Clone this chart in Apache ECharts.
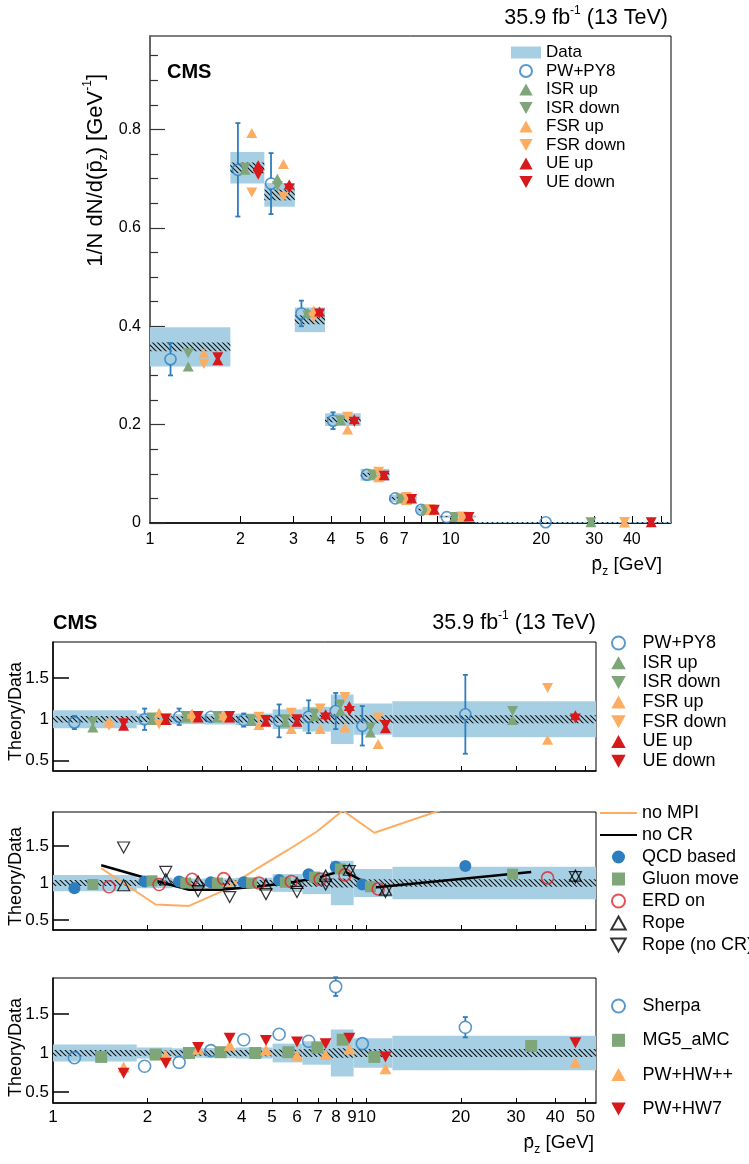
<!DOCTYPE html>
<html><head><meta charset="utf-8">
<script src="https://cdn.jsdelivr.net/npm/echarts@6/dist/echarts.min.js"></script>
<style>html,body{margin:0;padding:0;background:#fff}#c{width:749px;height:1164px}</style>
</head><body><div id="c"></div>
<script>
// ---------------- data ----------------
const binEdges = [1, 1.85, 2.4, 3.03, 3.82, 5.02, 6.25, 7.7, 9.1, 12.1, 55];
const xTickValues = [2, 3, 4, 5, 6, 7, 8, 9, 10, 20, 30, 40, 50];
const xLabelsTop = [1, 2, 3, 4, 5, 6, 7, 10, 20, 30, 40];
const xLabelsBottom = [1, 2, 3, 4, 5, 6, 7, 8, 9, 10, 20, 30, 40, 50];
const yMajorTop = [0, 0.2, 0.4, 0.6, 0.8];
const yMinorTop = [0.05, 0.1, 0.15, 0.25, 0.3, 0.35, 0.45, 0.5, 0.55, 0.65, 0.7, 0.75, 0.85, 0.9, 0.95];
const yRatioTicks = [0.5, 1, 1.5];

// top panel: 1/N dN/d(pz)
const topData      = [0.358, 0.722, 0.667, 0.413, 0.210, 0.098, 0.050, 0.027, 0.013, 0.0015];
const topDataTotal = [0.040, 0.032, 0.024, 0.025, 0.013, 0.012, 0.007, 0.008, 0.0025, 0.0004];
const topDataStat  = [0.009, 0.011, 0.011, 0.009, 0.005, 0.004, 0.003, 0.002, 0.001, 0.0003];
const topPwpy8     = [0.333, 0.718, 0.690, 0.426, 0.208, 0.098, 0.050, 0.027, 0.012, 0.0015];
const topPwpy8Err  = [0.033, 0.095, 0.062, 0.026, 0.017, 0.010, 0.004, 0.003, 0.002, 0.001];
const topIsrUp     = [0.318, 0.718, 0.700, 0.428, 0.209, 0.098, 0.050, 0.027, 0.012, 0.0015];
const topIsrDown   = [0.345, 0.722, 0.685, 0.422, 0.209, 0.098, 0.050, 0.027, 0.012, 0.0015];
const topFsrUp     = [0.345, 0.793, 0.730, 0.432, 0.190, 0.093, 0.047, 0.026, 0.012, 0.0012];
const topFsrDown   = [0.323, 0.672, 0.663, 0.418, 0.216, 0.104, 0.053, 0.028, 0.013, 0.0018];
const topUeUp      = [0.331, 0.727, 0.688, 0.430, 0.211, 0.097, 0.050, 0.027, 0.013, 0.0015];
const topUeDown    = [0.337, 0.708, 0.680, 0.426, 0.206, 0.096, 0.049, 0.027, 0.012, 0.0015];

// ratio bands
const ratioTotal = [0.11, 0.07, 0.06, 0.065, 0.07, 0.12, 0.15, 0.30, 0.19, 0.22];
const ratioStat  = [0.04, 0.035, 0.035, 0.035, 0.04, 0.045, 0.05, 0.06, 0.05, 0.05];

// ratio panel 1
const rPwpy8    = [0.96, 1.00, 1.03, 1.03, 0.99, 0.98, 1.03, 1.10, 0.92, 1.06];
const rPwpy8Err = [0.08, 0.13, 0.10, 0.05, 0.08, 0.20, 0.20, 0.22, 0.24, 0.48];
const rIsrUp    = [0.90, 0.99, 1.02, 1.02, 0.98, 0.96, 1.04, 1.10, 0.84, 0.99];
const rIsrDown  = [0.97, 1.02, 1.04, 1.04, 1.00, 1.00, 1.07, 1.18, 0.90, 1.10];
const rFsrUp    = [0.97, 1.08, 1.07, 1.05, 0.93, 0.88, 0.88, 0.90, 0.70, 0.75];
const rFsrDown  = [0.92, 0.94, 1.00, 1.00, 1.03, 1.08, 1.13, 1.27, 1.02, 1.38];
const rUeUp     = [0.92, 0.99, 1.02, 1.02, 0.97, 0.97, 1.06, 1.16, 0.89, 1.05];
const rUeDown   = [0.95, 1.01, 1.04, 1.04, 0.99, 1.00, 1.02, 1.10, 0.93, 1.01];

// ratio panel 2
const rNoMPI    = [1.20, 0.71, 0.69, 0.88, 1.18, 1.45, 1.70, 1.98, 1.68, 2.40];
const rNoCR     = [1.24, 1.03, 0.91, 0.91, 0.95, 1.00, 1.07, 1.17, 0.94, 1.15];
const rQcd      = [0.93, 1.02, 1.02, 1.01, 1.01, 1.04, 1.12, 1.22, 0.98, 1.23];
const rGluon    = [0.98, 1.03, 1.00, 1.00, 1.00, 1.01, 1.08, 1.19, 0.95, 1.12];
const rErd      = [0.95, 0.98, 1.05, 1.06, 1.00, 1.02, 1.05, 1.11, 0.92, 1.07];
const rRope     = [0.97, 1.05, 1.02, 1.01, 0.98, 1.00, 1.10, 1.18, 0.91, 1.10];
const rRopeNoCR = [1.48, 1.15, 0.89, 0.81, 0.85, 0.88, 0.98, 1.16, 0.88, 1.08];

// ratio panel 3
const rSherpa    = [0.94, 0.83, 0.88, 1.03, 1.17, 1.24, 1.15, 1.85, 1.12, 1.33];
const rSherpaErr = [0.02, 0.02, 0.02, 0.02, 0.02, 0.03, 0.05, 0.12, 0.05, 0.13];
const rMg5       = [0.95, 0.98, 1.00, 1.01, 1.00, 1.01, 1.07, 1.17, 0.95, 1.09];
const rHwpp      = [0.82, 0.97, 1.05, 1.10, 1.04, 0.97, 0.98, 1.05, 0.80, 0.88];
const rHw7       = [0.74, 0.87, 1.07, 1.19, 1.16, 1.14, 1.12, 1.19, 0.95, 1.13];

// ---------------- style ----------------
const FONT = '"Liberation Sans", Arial, Helvetica, sans-serif';
const C_BLUE = '#2e7ebf', C_GREEN = '#7ea678', C_ORANGE = '#fdad62', C_RED = '#d8191c', C_BAND = '#a6cfe4';
const X_MAX = 54;
const TRI_UP = 'path://M1,0L2,1.8L0,1.8Z';
const TRI_DN = 'path://M0,0L2,0L1,1.8Z';
const SQUARE = 'path://M0,0L1,0L1,1L0,1Z';
const LINE_ICON = 'path://M0,0L40,0L40,2.3L0,2.3Z';
const lg = Math.log10;

function hatchPattern() {
  const c = document.createElement('canvas');
  const s = 5; c.width = s; c.height = s;
  const ctx = c.getContext('2d');
  ctx.strokeStyle = '#111'; ctx.lineWidth = 1.1;
  ctx.beginPath();
  ctx.moveTo(-1, -1); ctx.lineTo(s + 1, s + 1);
  ctx.moveTo(-1, s - 1); ctx.lineTo(1, s + 1);
  ctx.moveTo(s - 1, -1); ctx.lineTo(s + 1, 1);
  ctx.stroke();
  return { image: c, repeat: 'repeat' };
}
const HATCH = hatchPattern();

const xIdx = [0, 1, 2, 3];
const yIdx = [0, 2, 3, 4];

function binPos(frac) {
  return binEdges.slice(0, -1).map((e, i) => e + frac * (binEdges[i + 1] - e));
}
function rectRender(fill) {
  return function (params, api) {
    const p0 = api.coord([api.value(0), api.value(3)]);
    const p1 = api.coord([api.value(1), api.value(2)]);
    return { type: 'rect', shape: { x: p0[0], y: p0[1], width: p1[0] - p0[0], height: Math.max(p1[1] - p0[1], 1) }, style: { fill: fill } };
  };
}
function bandSeries(name, g, center, halfw, fill, z) {
  const data = center.map((c, i) => [lg(binEdges[i]), lg(Math.min(binEdges[i + 1], X_MAX)), c - halfw[i], c + halfw[i]]);
  return { type: 'custom', name: name, xAxisIndex: xIdx[g], yAxisIndex: yIdx[g], renderItem: rectRender(fill),
    encode: { x: [0, 1], y: [2, 3] }, data: data, z: z, silent: true, itemStyle: { color: C_BAND } };
}
function markSeries(name, g, frac, vals, symbol, color, opt) {
  opt = opt || {};
  const xs = binPos(frac);
  return {
    type: 'scatter', name: name, xAxisIndex: xIdx[g], yAxisIndex: yIdx[g],
    data: vals.map((v, i) => [lg(xs[i]), v]),
    symbol: symbol, symbolSize: opt.size || [11, 10],
    itemStyle: opt.hollow ? { color: 'rgba(255,255,255,0)', borderColor: color, borderWidth: opt.bw || 1.6 } : { color: color, opacity: 1 },
    z: opt.z || 6, silent: true, animation: false
  };
}
function errSeries(name, g, frac, vals, errs, color, r) {
  const xs = binPos(frac);
  return {
    type: 'custom', name: name, xAxisIndex: xIdx[g], yAxisIndex: yIdx[g], z: 5, silent: true,
    encode: { x: 0, y: 1 },
    data: vals.map((v, i) => [lg(xs[i]), v, errs[i]]),
    renderItem: function (params, api) {
      const x = api.value(0), y = api.value(1), e = api.value(2);
      const c = api.coord([x, y]), hi = api.coord([x, y + e]), lo = api.coord([x, y - e]);
      const st = { stroke: color, lineWidth: 1.8 };
      const ch = [];
      if (c[1] - r > hi[1]) {
        ch.push({ type: 'line', shape: { x1: c[0], y1: hi[1], x2: c[0], y2: c[1] - r }, style: st });
        ch.push({ type: 'line', shape: { x1: c[0] - 2.5, y1: hi[1], x2: c[0] + 2.5, y2: hi[1] }, style: st });
      }
      if (lo[1] > c[1] + r) {
        ch.push({ type: 'line', shape: { x1: c[0], y1: c[1] + r, x2: c[0], y2: lo[1] }, style: st });
        ch.push({ type: 'line', shape: { x1: c[0] - 2.5, y1: lo[1], x2: c[0] + 2.5, y2: lo[1] }, style: st });
      }
      return { type: 'group', children: ch };
    }
  };
}
function lineSeries(name, g, vals, color, width) {
  const centers = binEdges.slice(0, -1).map((e, i) => (e + binEdges[i + 1]) / 2);
  return { type: 'line', name: name, xAxisIndex: xIdx[g], yAxisIndex: yIdx[g], data: vals.map((v, i) => [lg(centers[i]), v]),
    symbol: 'none', lineStyle: { color: color, width: width }, itemStyle: { color: color }, z: 4, silent: true, clip: true, animation: false };
}

// ---------------- axes ----------------
const grids = [
  { left: 150, top: 36, width: 521, height: 487 },
  { left: 53, top: 642, width: 543, height: 129 },
  { left: 53, top: 812, width: 543, height: 118 },
  { left: 53, top: 978, width: 543, height: 125 }
].map(g => Object.assign(g, { show: true, borderColor: '#000', borderWidth: 1, backgroundColor: 'rgba(0,0,0,0)', containLabel: false }));

const fmtX = v => String(Math.round(Math.pow(10, v)));
function xAxis(g, labels, fontSize, margin) {
  return {
    type: 'value', gridIndex: g, min: 0, max: lg(X_MAX),
    axisLine: { show: true, onZero: false, lineStyle: { color: '#000', width: 1.5 } },
    axisTick: { show: true, inside: true, length: g === 0 ? 7 : 5, customValues: xTickValues.map(lg), lineStyle: { color: '#000', width: 1 } },
    axisLabel: labels ? { show: true, customValues: labels.map(lg), formatter: fmtX, fontSize: fontSize, fontFamily: FONT, color: '#000', margin: margin } : { show: false },
    splitLine: { show: false }
  };
}
function yRatio(g, min, max) {
  return {
    type: 'value', gridIndex: g, min: min, max: max,
    axisLine: { show: true, onZero: false, lineStyle: { color: '#000', width: 1.5 } },
    axisTick: { show: true, inside: true, length: 16, customValues: yRatioTicks, lineStyle: { color: '#000', width: 1.5 } },
    axisLabel: { show: true, customValues: yRatioTicks, fontSize: 17, fontFamily: FONT, color: '#000', margin: 4 },
    splitLine: { show: false }
  };
}

const xAxes = [xAxis(0, xLabelsTop, 16, 9), xAxis(1, null), xAxis(2, null), xAxis(3, xLabelsBottom, 17, 6)];
const yAxes = [
  { type: 'value', gridIndex: 0, min: 0, max: 0.99,
    axisLine: { show: true, onZero: false, lineStyle: { color: '#666', width: 2 } },
    axisTick: { show: true, inside: true, length: 15, customValues: yMajorTop, lineStyle: { color: '#333', width: 1.2 } },
    axisLabel: { show: true, customValues: yMajorTop, fontSize: 16, fontFamily: FONT, color: '#000', margin: 9 },
    splitLine: { show: false } },
  { type: 'value', gridIndex: 0, min: 0, max: 0.99, position: 'left',
    axisLine: { show: false, onZero: false },
    axisTick: { show: true, inside: true, length: 8, customValues: yMinorTop, lineStyle: { color: '#333', width: 1.2 } },
    axisLabel: { show: false }, splitLine: { show: false } },
  yRatio(1, 0.37, 1.94),
  yRatio(2, 0.365, 1.96),
  yRatio(3, 0.36, 1.96)
];

// ---------------- series ----------------
const series = [];
// top
series.push(bandSeries('Data', 0, topData, topDataTotal, C_BAND, 1));
series.push(bandSeries('Data stat', 0, topData, topDataStat, HATCH, 2));
series.push(errSeries('PW+PY8 err', 0, 0.2, topPwpy8, topPwpy8Err, C_BLUE, 5.5));
series.push(markSeries('PW+PY8', 0, 0.2, topPwpy8, 'circle', C_BLUE, { hollow: true, size: 11 }));
series.push(markSeries('ISR up', 0, 0.4, topIsrUp, TRI_UP, C_GREEN));
series.push(markSeries('ISR down', 0, 0.4, topIsrDown, TRI_DN, C_GREEN));
series.push(markSeries('FSR up', 0, 0.6, topFsrUp, TRI_UP, C_ORANGE));
series.push(markSeries('FSR down', 0, 0.6, topFsrDown, TRI_DN, C_ORANGE));
series.push(markSeries('UE up', 0, 0.8, topUeUp, TRI_UP, C_RED));
series.push(markSeries('UE down', 0, 0.8, topUeDown, TRI_DN, C_RED));

const ones = binEdges.slice(0, -1).map(() => 1);
for (let g = 1; g <= 3; g++) {
  series.push(bandSeries('Data band ' + g, g, ones, ratioTotal, C_BAND, 1));
  series.push(bandSeries('Data hatch ' + g, g, ones, ratioStat, HATCH, 2));
}
// panel 1
series.push(errSeries('PW+PY8 err r', 1, 0.2, rPwpy8, rPwpy8Err, C_BLUE, 5.5));
series.push(markSeries('PW+PY8', 1, 0.2, rPwpy8, 'circle', C_BLUE, { hollow: true, size: 11 }));
series.push(markSeries('ISR up', 1, 0.4, rIsrUp, TRI_UP, C_GREEN));
series.push(markSeries('ISR down', 1, 0.4, rIsrDown, TRI_DN, C_GREEN));
series.push(markSeries('FSR up', 1, 0.6, rFsrUp, TRI_UP, C_ORANGE));
series.push(markSeries('FSR down', 1, 0.6, rFsrDown, TRI_DN, C_ORANGE));
series.push(markSeries('UE up', 1, 0.8, rUeUp, TRI_UP, C_RED));
series.push(markSeries('UE down', 1, 0.8, rUeDown, TRI_DN, C_RED));
// panel 2
series.push(lineSeries('no MPI', 2, rNoMPI, C_ORANGE, 2));
series.push(lineSeries('no CR', 2, rNoCR, '#000', 2.5));
series.push(markSeries('QCD based', 2, 0.2, rQcd, 'circle', C_BLUE, { size: 12 }));
series.push(markSeries('Gluon move', 2, 0.4, rGluon, SQUARE, C_GREEN, { size: 11 }));
series.push(markSeries('ERD on', 2, 0.6, rErd, 'circle', '#e0242a', { hollow: true, size: 12 }));
series.push(markSeries('Rope', 2, 0.8, rRope, TRI_UP, '#000', { hollow: true, size: [12, 11], bw: 1.2 }));
series.push(markSeries('Rope (no CR)', 2, 0.8, rRopeNoCR, TRI_DN, '#000', { hollow: true, size: [12, 11], bw: 1.2 }));
// panel 3
series.push(errSeries('Sherpa err', 3, 0.2, rSherpa, rSherpaErr, C_BLUE, 6));
series.push(markSeries('Sherpa', 3, 0.2, rSherpa, 'circle', C_BLUE, { hollow: true, size: 12 }));
series.push(markSeries('MG5_aMC', 3, 0.5, rMg5, SQUARE, C_GREEN, { size: 12 }));
series.push(markSeries('PW+HW++', 3, 0.8, rHwpp, TRI_UP, C_ORANGE, { size: [12, 11] }));
series.push(markSeries('PW+HW7', 3, 0.8, rHw7, TRI_DN, C_RED, { size: [12, 11] }));

// ---------------- legends ----------------
const legTxt = (fs) => ({ fontSize: fs, fontFamily: FONT, color: '#000' });
const legends = [
  { orient: 'vertical', align: 'left', left: 506, top: 39, itemWidth: 30, itemHeight: 12, itemGap: 1.5, selectedMode: false,
    data: [{ name: 'Data', icon: 'rect' }, 'PW+PY8', 'ISR up', 'ISR down', 'FSR up', 'FSR down', 'UE up', 'UE down'], textStyle: legTxt(17) },
  { orient: 'vertical', align: 'left', left: 606, top: 629, itemWidth: 38, itemHeight: 13, itemGap: 1.7, selectedMode: false,
    data: ['PW+PY8', 'ISR up', 'ISR down', 'FSR up', 'FSR down', 'UE up', 'UE down'], textStyle: legTxt(18) },
  { orient: 'vertical', align: 'left', left: 595, top: 799, itemWidth: 37, itemHeight: 13, itemGap: 4, selectedMode: false,
    data: [{ name: 'no MPI', icon: LINE_ICON }, { name: 'no CR', icon: LINE_ICON }, 'QCD based', 'Gluon move', 'ERD on', 'Rope', 'Rope (no CR)'], textStyle: legTxt(18) },
  { orient: 'vertical', align: 'left', left: 606, top: 992, itemWidth: 38, itemHeight: 13, itemGap: 16.3, selectedMode: false,
    data: ['Sherpa', 'MG5_aMC', 'PW+HW++', 'PW+HW7'], textStyle: legTxt(18) }
];

// ---------------- texts ----------------
const rich = {
  sup: { fontSize: 12, verticalAlign: 'top', fontFamily: FONT, fill: '#000', lineHeight: 12 },
  sub: { fontSize: 12, verticalAlign: 'bottom', fontFamily: FONT, fill: '#000', lineHeight: 12 }
};
function txt(x, y, text, fs, opts) {
  opts = opts || {};
  return { type: 'text', x: x, y: y, rotation: opts.rot || 0, silent: true, z: 20,
    style: { text: text, fontSize: fs, fontFamily: FONT, fontWeight: opts.bold ? 'bold' : 'normal', fill: '#000',
      align: opts.align || 'left', verticalAlign: 'middle', lineHeight: fs + 6, rich: rich } };
}
const graphics = [
  txt(668, 18, '35.9 fb{sup|-1} (13 TeV)', 21.5, { align: 'right' }),
  txt(167, 72, 'CMS', 20, { bold: true }),
  txt(96, 74, '1/N dN/d(p\u0304{sub|z}) [GeV{sup|-1}]', 22, { align: 'right', rot: Math.PI / 2 }),
  txt(662, 565, 'p\u0304{sub|z} [GeV]', 19, { align: 'right' }),
  txt(53, 623, 'CMS', 20, { bold: true }),
  txt(596, 623, '35.9 fb{sup|-1} (13 TeV)', 21.5, { align: 'right' }),
  txt(16, 662, 'Theory/Data', 18, { align: 'right', rot: Math.PI / 2 }),
  txt(16, 827, 'Theory/Data', 18, { align: 'right', rot: Math.PI / 2 }),
  txt(16, 998, 'Theory/Data', 18, { align: 'right', rot: Math.PI / 2 }),
  txt(594, 1143, 'p\u0304{sub|z} [GeV]', 19, { align: 'right' })
];

const chart = echarts.init(document.getElementById('c'), null, { renderer: 'canvas' });
chart.setOption({
  backgroundColor: '#fff',
  animation: false,
  textStyle: { fontFamily: FONT },
  grid: grids,
  xAxis: xAxes,
  yAxis: yAxes,
  legend: legends,
  series: series,
  graphic: graphics
});
</script>
</body></html>
